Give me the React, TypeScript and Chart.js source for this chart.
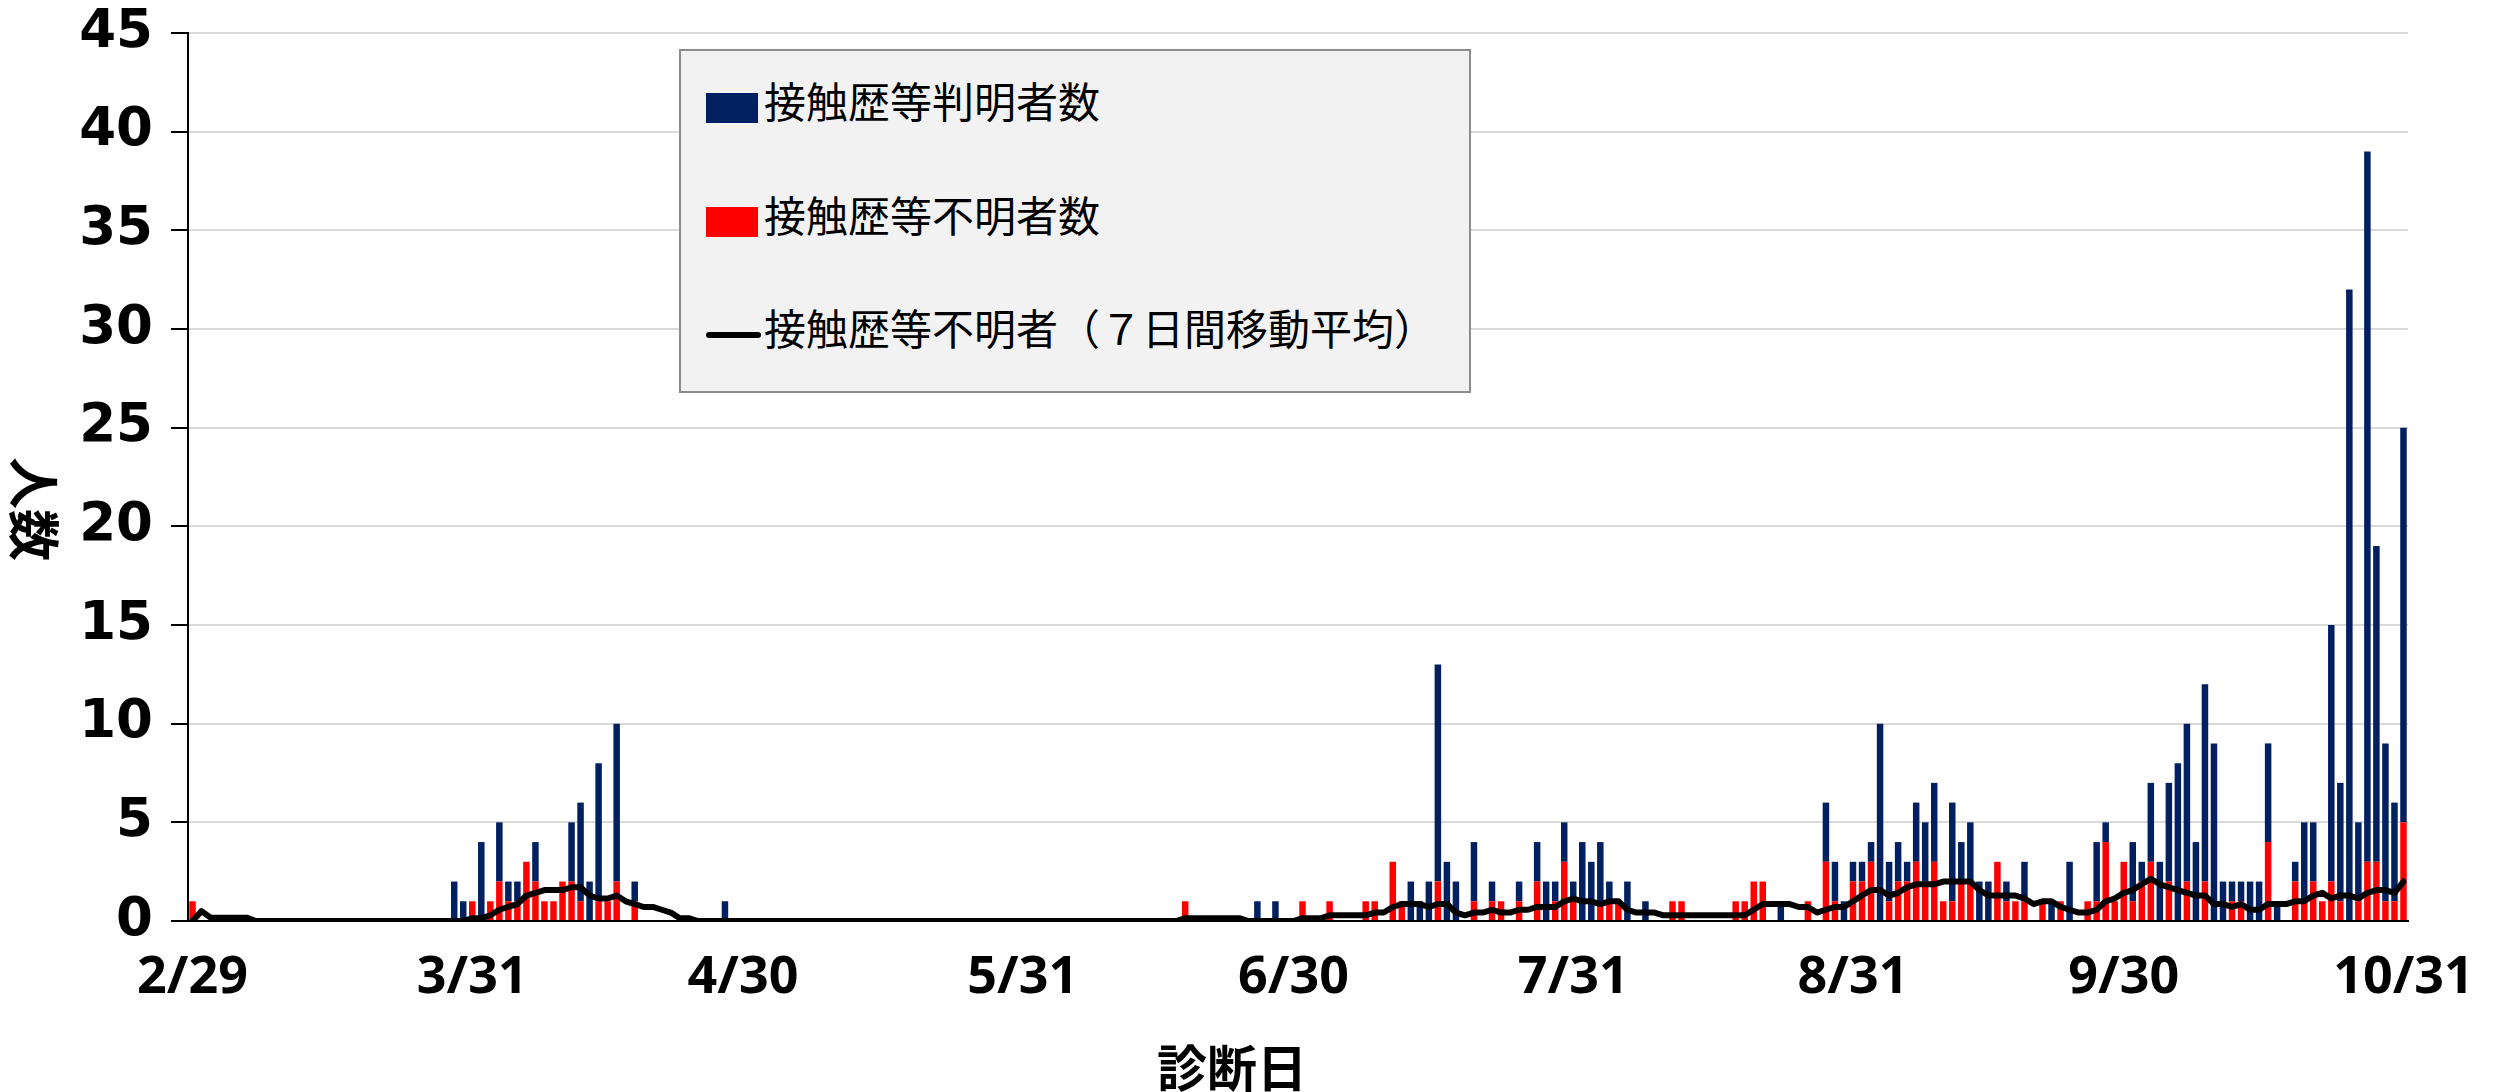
import React, { useEffect, useRef } from 'react';
import { Chart, registerables } from 'chart.js';

Chart.register(...registerables);

// ---- categories: every diagnosis day from 2/29 to 10/31 ----
const MONTH_RANGES: [number, number, number][] = [
  [2, 29, 29], [3, 1, 31], [4, 1, 30], [5, 1, 31], [6, 1, 30],
  [7, 1, 31], [8, 1, 31], [9, 1, 30], [10, 1, 31],
];
const LABELS: string[] = MONTH_RANGES.flatMap(([m, a, b]) =>
  Array.from({ length: b - a + 1 }, (_, i) => `${m}/${a + i}`)
);
const TICK_LABELS = ['2/29', '3/31', '4/30', '5/31', '6/30', '7/31', '8/31', '9/30', '10/31'];
const Y_TICKS = [0, 5, 10, 15, 20, 25, 30, 35, 40, 45];

// ---- 接触歴等不明者数 (red) ----
const UNKNOWN_FEB = [1];
const UNKNOWN_MAR = [0,0,0,0,0,0,0,0,0,0, 0,0,0,0,0,0,0,0,0,0, 0,0,0,0,0,0,0,0,0,0, 1];
const UNKNOWN_APR = [0,1,2,1,1,3,2,1,1,2, 2,1,0,1,1,2,0,1,0,0, 0,0,0,0,0,0,0,0,0,0];
const UNKNOWN_MAY = [0,0,0,0,0,0,0,0,0,0, 0,0,0,0,0,0,0,0,0,0, 0,0,0,0,0,0,0,0,0,0, 0];
const UNKNOWN_JUN = [0,0,0,0,0,0,0,0,0,0, 0,0,0,0,0,0,0,1,0,0, 0,0,0,0,0,0,0,0,0,0];
const UNKNOWN_JUL = [1,0,0,1,0,0,0,1,1,0, 3,1,0,0,0,2,0,0,0,1, 0,1,1,0,1,0,2,0,1,3, 1];
const UNKNOWN_AUG = [0,0,1,1,1,0,0,0,0,0, 1,1,0,0,0,0,0,1,1,2, 2,0,0,0,0,1,0,3,1,0, 2];
const UNKNOWN_SEP = [2,3,0,1,2,2,3,2,3,1, 1,2,2,0,0,3,1,1,1,0, 1,0,1,0,0,1,1,4,1,3];
const UNKNOWN_OCT = [1,2,3,0,2,0,2,0,2,0, 0,1,1,0,0,4,0,0,2,1, 2,1,2,1,0,1,3,3,1,1, 5];

// ---- 接触歴等判明者数 (navy) ----
const KNOWN_FEB = [0];
const KNOWN_MAR = [0,0,0,0,0,0,0,0,0,0, 0,0,0,0,0,0,0,0,0,0, 0,0,0,0,0,0,0,0,2,1, 0];
const KNOWN_APR = [4,0,3,1,1,0,2,0,0,0, 3,5,2,7,0,8,0,1,0,0, 0,0,0,0,0,0,0,1,0,0];
const KNOWN_MAY = [0,0,0,0,0,0,0,0,0,0, 0,0,0,0,0,0,0,0,0,0, 0,0,0,0,0,0,0,0,0,0, 0];
const KNOWN_JUN = [0,0,0,0,0,0,0,0,0,0, 0,0,0,0,0,0,0,0,0,0, 0,0,0,0,0,1,0,1,0,0];
const KNOWN_JUL = [0,0,0,0,0,0,0,0,0,0, 0,0,2,1,2,11,3,2,0,3, 0,1,0,0,1,0,2,2,1,2, 1];
const KNOWN_AUG = [4,3,3,1,0,2,0,1,0,0, 0,0,0,0,0,0,0,0,0,0, 0,0,1,0,0,0,0,3,2,1, 1];
const KNOWN_SEP = [1,1,10,2,2,1,3,3,4,0, 5,2,3,2,2,0,1,0,2,0, 0,1,0,3,0,0,3,1,0,0];
const KNOWN_OCT = [3,1,4,3,5,8,8,4,10,9, 2,1,1,2,2,5,1,0,1,4, 3,0,13,6,32,4,36,16,8,5, 20];

// ---- 接触歴等不明者（７日間移動平均） (black line) ----
const AVG_FEB = [0];
const AVG_MAR = [0.5,0.17,0.17,0.17,0.17,0.17,0,0,0,0, 0,0,0,0,0,0,0,0,0,0, 0,0,0,0,0,0,0,0,0,0, 0.14];
const AVG_APR = [0.14,0.29,0.57,0.71,0.86,1.29,1.43,1.57,1.57,1.57, 1.71,1.71,1.29,1.14,1.14,1.29,1.0,0.86,0.71,0.71, 0.57,0.43,0.14,0.14,0,0,0,0,0,0];
const AVG_MAY = [0,0,0,0,0,0,0,0,0,0, 0,0,0,0,0,0,0,0,0,0, 0,0,0,0,0,0,0,0,0,0, 0];
const AVG_JUN = [0,0,0,0,0,0,0,0,0,0, 0,0,0,0,0,0,0,0.14,0.14,0.14, 0.14,0.14,0.14,0.14,0,0,0,0,0,0];
const AVG_JUL = [0.14,0.14,0.14,0.29,0.29,0.29,0.29,0.29,0.43,0.43, 0.71,0.86,0.86,0.86,0.71,0.86,0.86,0.43,0.29,0.43, 0.43,0.57,0.43,0.43,0.57,0.57,0.71,0.71,0.71,1.0, 1.14];
const AVG_AUG = [1.0,1.0,0.86,1.0,1.0,0.57,0.43,0.43,0.43,0.29, 0.29,0.29,0.29,0.29,0.29,0.29,0.29,0.29,0.29,0.57, 0.86,0.86,0.86,0.86,0.71,0.71,0.43,0.57,0.71,0.71, 1.0];
const AVG_SEP = [1.29,1.57,1.57,1.29,1.43,1.71,1.86,1.86,1.86,2.0, 2.0,2.0,2.0,1.57,1.29,1.29,1.29,1.29,1.14,0.86, 1.0,1.0,0.71,0.57,0.43,0.43,0.57,1.0,1.14,1.43];
const AVG_OCT = [1.57,1.86,2.14,1.86,1.71,1.57,1.43,1.29,1.29,0.86, 0.86,0.71,0.86,0.57,0.57,0.86,0.86,0.86,1.0,1.0, 1.29,1.43,1.14,1.29,1.29,1.14,1.43,1.57,1.57,1.43, 2.0];

const UNKNOWN = [...UNKNOWN_FEB, ...UNKNOWN_MAR, ...UNKNOWN_APR, ...UNKNOWN_MAY, ...UNKNOWN_JUN, ...UNKNOWN_JUL, ...UNKNOWN_AUG, ...UNKNOWN_SEP, ...UNKNOWN_OCT];
const KNOWN = [...KNOWN_FEB, ...KNOWN_MAR, ...KNOWN_APR, ...KNOWN_MAY, ...KNOWN_JUN, ...KNOWN_JUL, ...KNOWN_AUG, ...KNOWN_SEP, ...KNOWN_OCT];
const AVG = [...AVG_FEB, ...AVG_MAR, ...AVG_APR, ...AVG_MAY, ...AVG_JUN, ...AVG_JUL, ...AVG_AUG, ...AVG_SEP, ...AVG_OCT];

const SERIES_NAMES = ['接触歴等判明者数', '接触歴等不明者数', '接触歴等不明者（７日間移動平均）'];
const NAVY = '#002060';
const RED = '#FF0000';

const Y_TICK_FONT = { family: '"DejaVu Sans", Verdana, sans-serif', size: 53, weight: 'bold' as const };
const X_TICK_FONT = { family: '"Noto Sans", "Liberation Sans", sans-serif', size: 52, weight: 'bold' as const };
const CJK = '"Noto Sans CJK JP", "Noto Sans", sans-serif';

export default function App() {
  const canvasRef = useRef<HTMLCanvasElement | null>(null);

  useEffect(() => {
    const canvas = canvasRef.current;
    if (!canvas) return;
    const chart = new Chart(canvas, {
      type: 'bar',
      data: {
        labels: LABELS,
        datasets: [
          {
            type: 'line',
            label: SERIES_NAMES[2],
            data: AVG,
            borderColor: '#000000',
            backgroundColor: '#000000',
            borderWidth: 6,
            pointRadius: 0,
            tension: 0,
            borderJoinStyle: 'round',
            borderCapStyle: 'round',
            order: 0,
            stack: 'avg',
          } as any,
          {
            type: 'bar',
            label: SERIES_NAMES[1],
            data: UNKNOWN,
            backgroundColor: RED,
            barPercentage: 0.72,
            categoryPercentage: 1,
            order: 1,
            stack: 'cases',
          },
          {
            type: 'bar',
            label: SERIES_NAMES[0],
            data: KNOWN,
            backgroundColor: NAVY,
            barPercentage: 0.72,
            categoryPercentage: 1,
            order: 1,
            stack: 'cases',
          },
        ],
      },
      options: {
        animation: false,
        responsive: false,
        layout: { padding: { top: 33, right: 86, bottom: 0, left: 0 } },
        plugins: {
          legend: { display: false },
          tooltip: { enabled: false },
        },
        scales: {
          x: {
            type: 'category',
            stacked: true,
            offset: true,
            grid: { display: false, drawTicks: false },
            border: { display: true, color: '#000000', width: 2 },
            ticks: {
              autoSkip: false,
              maxRotation: 0,
              minRotation: 0,
              padding: 26,
              color: '#000000',
              font: X_TICK_FONT,
              callback: (_v: any, i: number) => (TICK_LABELS.includes(LABELS[i]) ? LABELS[i] : null),
            },
            afterFit: (s: any) => { s.height = 171; s.paddingLeft = 0; s.paddingRight = 0; },
          },
          y: {
            stacked: true,
            min: 0,
            max: 45,
            grid: { color: '#d9d9d9', lineWidth: 2, tickColor: '#000000', tickLength: 17, drawTicks: true },
            border: { display: true, color: '#000000', width: 2 },
            ticks: {
              stepSize: 5,
              padding: 18,
              color: '#000000',
              font: Y_TICK_FONT,
              callback: (v: any) => (Y_TICKS.includes(Number(v)) ? String(v) : null),
            },
            afterFit: (s: any) => { s.width = 188; s.paddingTop = 0; s.paddingBottom = 0; },
          },
        },
      } as any,
    });
    return () => chart.destroy();
  }, []);

  const rowCenters = [59, 173, 286];

  return (
    <div style={{ position: 'fixed', left: 0, top: 0, width: 2494, height: 1092, background: '#ffffff', overflow: 'hidden' }}>
      <canvas ref={canvasRef} width={2494} height={1092} style={{ position: 'absolute', left: 0, top: 0, width: 2494, height: 1092 }} />
      {/* Y axis title */}
      <div style={{
        position: 'absolute', left: 9, top: 452, width: 54, height: 114,
        writingMode: 'vertical-rl', textOrientation: 'sideways' as any,
        fontFamily: CJK, fontWeight: 700, fontSize: 52, lineHeight: '54px', color: '#000',
        display: 'flex', alignItems: 'center', justifyContent: 'center',
      }}>人数</div>
      {/* X axis title */}
      <div style={{
        position: 'absolute', left: 1082, top: 1038, width: 300, height: 54,
        textAlign: 'center', fontFamily: CJK, fontWeight: 700, fontSize: 50, lineHeight: '54px', color: '#000',
      }}>診断日</div>
      {/* Legend */}
      <div style={{
        position: 'absolute', left: 679, top: 49, width: 792, height: 344,
        background: '#f2f2f2', border: '2px solid #8c8c8c', boxSizing: 'border-box',
      }}>
        {SERIES_NAMES.map((name, i) => (
          <React.Fragment key={name}>
            {i < 2 ? (
              <div style={{
                position: 'absolute', left: 25, top: rowCenters[i] - 15 - 2, width: 52, height: 30,
                background: i === 0 ? NAVY : RED,
              }} />
            ) : (
              <div style={{
                position: 'absolute', left: 25, top: rowCenters[i] - 3 - 2, width: 55, height: 6,
                background: '#000', borderRadius: 3,
              }} />
            )}
            <div style={{
              position: 'absolute', left: 83, top: rowCenters[i] - 8 - 2 - 24, height: 48,
              fontFamily: CJK, fontSize: 42, lineHeight: '48px', color: '#000', whiteSpace: 'nowrap',
            }}>{name}</div>
          </React.Fragment>
        ))}
      </div>
    </div>
  );
}
